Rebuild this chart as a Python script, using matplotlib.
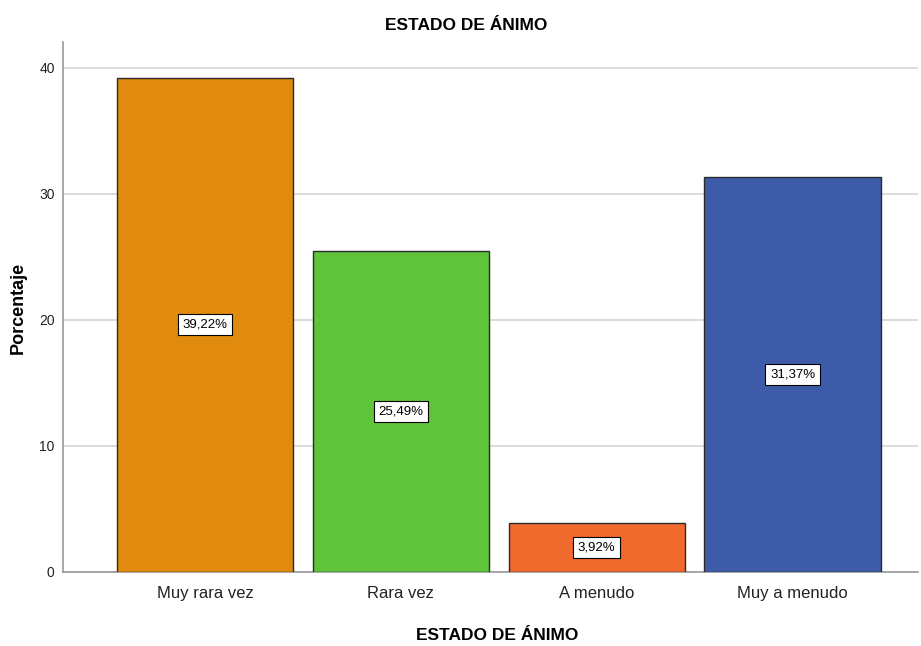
import numpy as np
import matplotlib
matplotlib.use("Agg")
import matplotlib.pyplot as plt

plt.rcParams['font.family'] = ['Liberation Sans', 'DejaVu Sans']

categorias = ['Muy rara vez', 'Rara vez', 'A menudo', 'Muy a menudo']
porcentajes = [39.22, 25.49, 3.92, 31.37]
etiquetas = ['39,22%', '25,49%', '3,92%', '31,37%']
colores = ['#E08A0E', '#5FC43A', '#F0692D', '#3E5BA9']

fig = plt.figure(figsize=(9.21, 6.46), dpi=100)
ax = fig.add_axes([0.0684, 0.1146, 0.9283, 0.8204])

x = np.arange(len(categorias))
ax.bar(x, porcentajes, width=0.9, color=colores, edgecolor='#2b2b2b', linewidth=1.0, zorder=3)

for xi, v, lab in zip(x, porcentajes, etiquetas):
    ax.text(xi, v / 2, lab, ha='center', va='center', fontsize=9.5, zorder=4,
            bbox=dict(boxstyle='square,pad=0.35', fc='white', ec='black', lw=0.8))

ax.set_xlim(-0.725, 3.64)
ax.set_ylim(0, 42.06)
ax.set_yticks([0, 10, 20, 30, 40])
ax.set_xticks(x)
ax.set_xticklabels(categorias, fontsize=12, color='#222222')
ax.tick_params(axis='y', labelsize=10, length=0, pad=6, colors='#222222')
ax.tick_params(axis='x', length=0, pad=10)

ax.grid(axis='y', color='#d4d4d4', linewidth=1.2, zorder=0)
for s in ['top', 'right']:
    ax.spines[s].set_visible(False)
ax.spines['left'].set_color('#9a9a9a')
ax.spines['bottom'].set_color('#9a9a9a')
ax.spines['left'].set_linewidth(1.2)
ax.spines['bottom'].set_linewidth(1.2)

fig.text(466 / 921, 1 - 25 / 646, 'ESTADO DE ÁNIMO', fontsize=12.5, fontweight='bold',
         ha='center', va='center')
fig.text(497 / 921, 1 - 636 / 646, 'ESTADO DE ÁNIMO', fontsize=12.5, fontweight='bold',
         ha='center', va='center')
fig.text(18 / 921, 1 - 308 / 646, 'Porcentaje', fontsize=13, fontweight='bold',
         ha='center', va='center', rotation=90)

plt.savefig('out.png', dpi=100)
